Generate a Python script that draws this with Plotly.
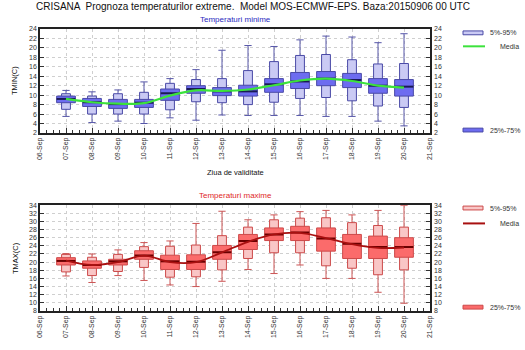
import plotly.graph_objects as go

# ---------------- data ----------------
days = [7, 8, 9, 10, 11, 12, 13, 14, 15, 16, 17, 18, 19, 20]
tick_days = list(range(6, 22))
tick_labels = ["%02d-Sep" % d for d in tick_days]

tmin_min = [5.5, 4.2, 4.5, 4.0, 5.2, 4.7, 5.8, 5.7, 5.7, 5.7, 5.5, 5.5, 4.5, 3.5]
tmin_p5 = [7.0, 6.0, 6.0, 6.0, 6.9, 8.6, 8.4, 8.0, 8.5, 9.3, 9.5, 8.8, 7.7, 7.4]
tmin_p25 = [8.4, 7.6, 7.2, 7.4, 8.9, 10.4, 9.9, 9.8, 10.6, 11.4, 12.0, 11.6, 10.4, 9.8]
tmin_med = [9.2, 8.5, 8.1, 8.4, 10.4, 11.3, 10.8, 10.8, 12.3, 12.9, 13.5, 13.2, 12.0, 11.8]
tmin_p75 = [9.8, 9.3, 9.1, 9.1, 11.3, 12.0, 11.6, 12.1, 13.5, 14.8, 15.0, 14.6, 13.5, 13.3]
tmin_p95 = [10.3, 9.8, 10.3, 10.6, 12.5, 13.3, 13.5, 15.2, 17.1, 18.4, 18.6, 17.5, 16.6, 16.7]
tmin_max = [11.0, 10.7, 11.1, 12.8, 13.5, 15.4, 19.5, 20.5, 20.3, 21.7, 22.5, 22.3, 21.1, 23.0]
tmin_mean = [9.2, 8.5, 8.2, 8.3, 9.9, 11.0, 10.9, 11.2, 12.1, 13.1, 13.5, 13.0, 12.0, 11.6]

tmax_min = [16.6, 15.0, 16.7, 15.5, 14.4, 14.0, 15.3, 18.2, 17.2, 19.3, 16.0, 16.0, 12.6, 9.9]
tmax_p5 = [17.6, 16.7, 17.7, 18.7, 16.3, 16.4, 18.1, 20.9, 22.3, 22.3, 19.1, 18.5, 16.9, 18.1]
tmax_p25 = [19.3, 18.5, 19.3, 20.7, 18.2, 18.2, 20.7, 23.1, 25.3, 25.3, 22.7, 20.9, 20.9, 21.2]
tmax_med = [20.3, 19.3, 20.2, 21.6, 20.2, 20.1, 22.4, 25.2, 26.8, 27.3, 25.8, 24.5, 23.7, 23.7]
tmax_p75 = [21.1, 20.3, 20.7, 22.8, 21.7, 21.8, 24.1, 26.8, 28.4, 28.8, 28.4, 26.8, 26.4, 26.0]
tmax_p95 = [21.9, 21.2, 21.9, 23.8, 23.9, 24.2, 26.5, 28.6, 30.4, 30.8, 30.9, 29.7, 29.0, 28.6]
tmax_max = [22.1, 22.0, 23.0, 24.8, 25.2, 29.5, 32.5, 30.4, 31.6, 32.4, 32.7, 31.6, 32.7, 33.9]
tmax_mean = [20.4, 19.3, 20.0, 21.6, 20.0, 20.0, 22.4, 25.0, 26.8, 27.2, 25.9, 24.4, 23.5, 23.6]

# ---------------- helpers ----------------
FONT = "Liberation Sans, Arial, sans-serif"
L, R, T, B = 40, 95, 29, 28
W, H = 525, 350
PW, PH = W - L - R, H - T - B


def px_x(p):
    return (p - L) / PW


def px_y(p):
    return (H - B - p) / PH


def rects(x, lo, hi, hw):
    xs, ys = [], []
    for d, a, b in zip(x, lo, hi):
        xs += [d - hw, d + hw, d + hw, d - hw, d - hw, None]
        ys += [a, a, b, b, a, None]
    return xs, ys


def segs_h(x, v, hw):
    xs, ys = [], []
    for d, a in zip(x, v):
        xs += [d - hw, d + hw, None]
        ys += [a, a, None]
    return xs, ys


def add_panel(fig, xa, ya, ymn, yp5, yp25, ymed, yp75, yp95, ymx, ymean,
              light, dark, edge, whisk, medc, meanc, meanw):
    # whiskers with caps
    xs, ys = [], []
    for d, a, b in zip(days, ymn, ymx):
        xs += [d, d, None]
        ys += [a, b, None]
    cx1, cy1 = segs_h(days, ymx, 0.14)
    cx2, cy2 = segs_h(days, ymn, 0.14)
    fig.add_trace(go.Scatter(x=xs + cx1 + cx2, y=ys + cy1 + cy2, mode="lines",
                             line=dict(color=whisk, width=1), xaxis=xa, yaxis=ya,
                             hoverinfo="skip", showlegend=False))
    # light box 5-95
    lx, ly = rects(days, yp5, yp95, 0.17)
    fig.add_trace(go.Scatter(x=lx, y=ly, mode="lines", fill="toself",
                             fillcolor=light, line=dict(color=edge, width=1),
                             xaxis=xa, yaxis=ya, hoverinfo="skip", showlegend=False))
    # dark box 25-75
    dx, dy = rects(days, yp25, yp75, 0.36)
    fig.add_trace(go.Scatter(x=dx, y=dy, mode="lines", fill="toself",
                             fillcolor=dark, line=dict(color=edge, width=1),
                             xaxis=xa, yaxis=ya, hoverinfo="skip", showlegend=False))
    # median
    mx_, my_ = segs_h(days, ymed, 0.36)
    fig.add_trace(go.Scatter(x=mx_, y=my_, mode="lines",
                             line=dict(color=medc, width=2), xaxis=xa, yaxis=ya,
                             hoverinfo="skip", showlegend=False))
    # mean
    fig.add_trace(go.Scatter(x=days, y=ymean, mode="lines",
                             line=dict(color=meanc, width=meanw, shape="spline", smoothing=1.0),
                             xaxis=xa, yaxis=ya, hoverinfo="skip", showlegend=False))


fig = go.Figure()
add_panel(fig, "x", "y", tmin_min, tmin_p5, tmin_p25, tmin_med, tmin_p75, tmin_p95, tmin_max, tmin_mean,
          "#cacaf4", "#6d6cf0", "#4a4aa6", "#5656a8", "#1a1a55", "#3ce23c", 2.2)
add_panel(fig, "x2", "y3", tmax_min, tmax_p5, tmax_p25, tmax_med, tmax_p75, tmax_p95, tmax_max, tmax_mean,
          "#f9c6c6", "#fb6b6b", "#cc4a4a", "#cc5555", "#6a0000", "#a81010", 1.8)

# invisible traces to carry the right-hand mirrored axes
fig.add_trace(go.Scatter(x=days, y=tmin_mean, xaxis="x", yaxis="y2", mode="lines",
                         line=dict(width=0, color="rgba(0,0,0,0)"), hoverinfo="skip", showlegend=False))
fig.add_trace(go.Scatter(x=days, y=tmax_mean, xaxis="x2", yaxis="y4", mode="lines",
                         line=dict(width=0, color="rgba(0,0,0,0)"), hoverinfo="skip", showlegend=False))

top_dom = [px_y(137), 1.0]
bot_dom = [0.0, px_y(212)]

xcommon = dict(range=[6, 21], tickmode="array", tickvals=tick_days, ticktext=tick_labels,
               tickangle=-90, tickfont=dict(family=FONT, size=7, color="#333"),
               showgrid=True, gridcolor="#cfcfcf", griddash="dot", gridwidth=1,
               showline=True, linecolor="#222", linewidth=1.5, mirror=True,
               ticks="inside", ticklen=5, tickcolor="#333",
               minor=dict(dtick=0.25, ticks="inside", ticklen=3, tickcolor="#333", showgrid=False),
               zeroline=False, fixedrange=True)
ycommon = dict(tickfont=dict(family=FONT, size=7, color="#333"), dtick=2,
               showgrid=True, gridcolor="#cfcfcf", griddash="dot", gridwidth=1,
               showline=True, linecolor="#222", linewidth=1.5, mirror="ticks",
               ticks="inside", ticklen=4, tickcolor="#333", zeroline=False)
yright = dict(tickfont=dict(family=FONT, size=7, color="#333"), dtick=2, showgrid=False,
              zeroline=False, ticks="", ticklabelstandoff=3)

fig.update_layout(
    width=W, height=H, margin=dict(l=L, r=R, t=T, b=B),
    paper_bgcolor="white", plot_bgcolor="white", showlegend=False,
    xaxis=dict(domain=[0, 1], anchor="y", **xcommon),
    xaxis2=dict(domain=[0, 1], anchor="y3", **xcommon),
    yaxis=dict(domain=top_dom, range=[2, 24], anchor="x", **ycommon),
    yaxis2=dict(domain=top_dom, range=[2, 24], overlaying="y", side="right", anchor="x", **yright),
    yaxis3=dict(domain=bot_dom, range=[8, 34], anchor="x2", **ycommon),
    yaxis4=dict(domain=bot_dom, range=[8, 34], overlaying="y3", side="right", anchor="x2", **yright),
    font=dict(family=FONT),
)

ann = [
    dict(text="CRISANA  Prognoza temperaturilor extreme.  Model MOS-ECMWF-EPS. Baza:20150906 00 UTC",
         x=px_x(253), y=px_y(6), font=dict(size=10, color="#111")),
    dict(text="Temperaturi minime", x=px_x(235), y=px_y(19), font=dict(size=8, color="#2a2ac0")),
    dict(text="Temperaturi maxime", x=px_x(235), y=px_y(202), font=dict(size=8, color="#e02828")),
    dict(text="Ziua de validitate", x=px_x(235), y=px_y(178), font=dict(size=7.5, color="#111")),
    dict(text="TMIN(C)", x=px_x(15), y=px_y(83), textangle=-90, font=dict(size=7.5, color="#111")),
    dict(text="TMAX(C)", x=px_x(15), y=px_y(267), textangle=-90, font=dict(size=7.5, color="#111")),
    dict(text="5%-95%", x=px_x(488), y=px_y(33), xanchor="left", font=dict(size=7, color="#333")),
    dict(text="Media", x=px_x(521), y=px_y(47), xanchor="right", font=dict(size=7, color="#333")),
    dict(text="25%-75%", x=px_x(488), y=px_y(134), xanchor="left", font=dict(size=7, color="#333")),
    dict(text="5%-95%", x=px_x(488), y=px_y(215), xanchor="left", font=dict(size=7, color="#333")),
    dict(text="Media", x=px_x(521), y=px_y(231), xanchor="right", font=dict(size=7, color="#333")),
    dict(text="25%-75%", x=px_x(488), y=px_y(318), xanchor="left", font=dict(size=7, color="#333")),
]
for a in ann:
    a.setdefault("xanchor", "center")
    fig.add_annotation(xref="paper", yref="paper", yanchor="middle", showarrow=False,
                       **{k: v for k, v in a.items() if k != "font"},
                       font=dict(family=FONT, **a["font"]))

shapes = [
    dict(type="rect", x0=px_x(463), x1=px_x(483), y0=px_y(35), y1=px_y(31),
         fillcolor="#cacaf4", line=dict(color="#4a4aa6", width=1)),
    dict(type="line", x0=px_x(463), x1=px_x(485), y0=px_y(47), y1=px_y(47),
         line=dict(color="#3ce23c", width=2)),
    dict(type="rect", x0=px_x(463), x1=px_x(483), y0=px_y(136), y1=px_y(132),
         fillcolor="#6d6cf0", line=dict(color="#4a4aa6", width=1)),
    dict(type="rect", x0=px_x(463), x1=px_x(483), y0=px_y(217), y1=px_y(213),
         fillcolor="#f9c6c6", line=dict(color="#cc4a4a", width=1)),
    dict(type="line", x0=px_x(463), x1=px_x(485), y0=px_y(231), y1=px_y(231),
         line=dict(color="#a81010", width=2)),
    dict(type="rect", x0=px_x(463), x1=px_x(483), y0=px_y(320), y1=px_y(316),
         fillcolor="#fb6b6b", line=dict(color="#cc4a4a", width=1)),
]
for s in shapes:
    fig.add_shape(xref="paper", yref="paper", **s)

fig.write_html("out.html")
